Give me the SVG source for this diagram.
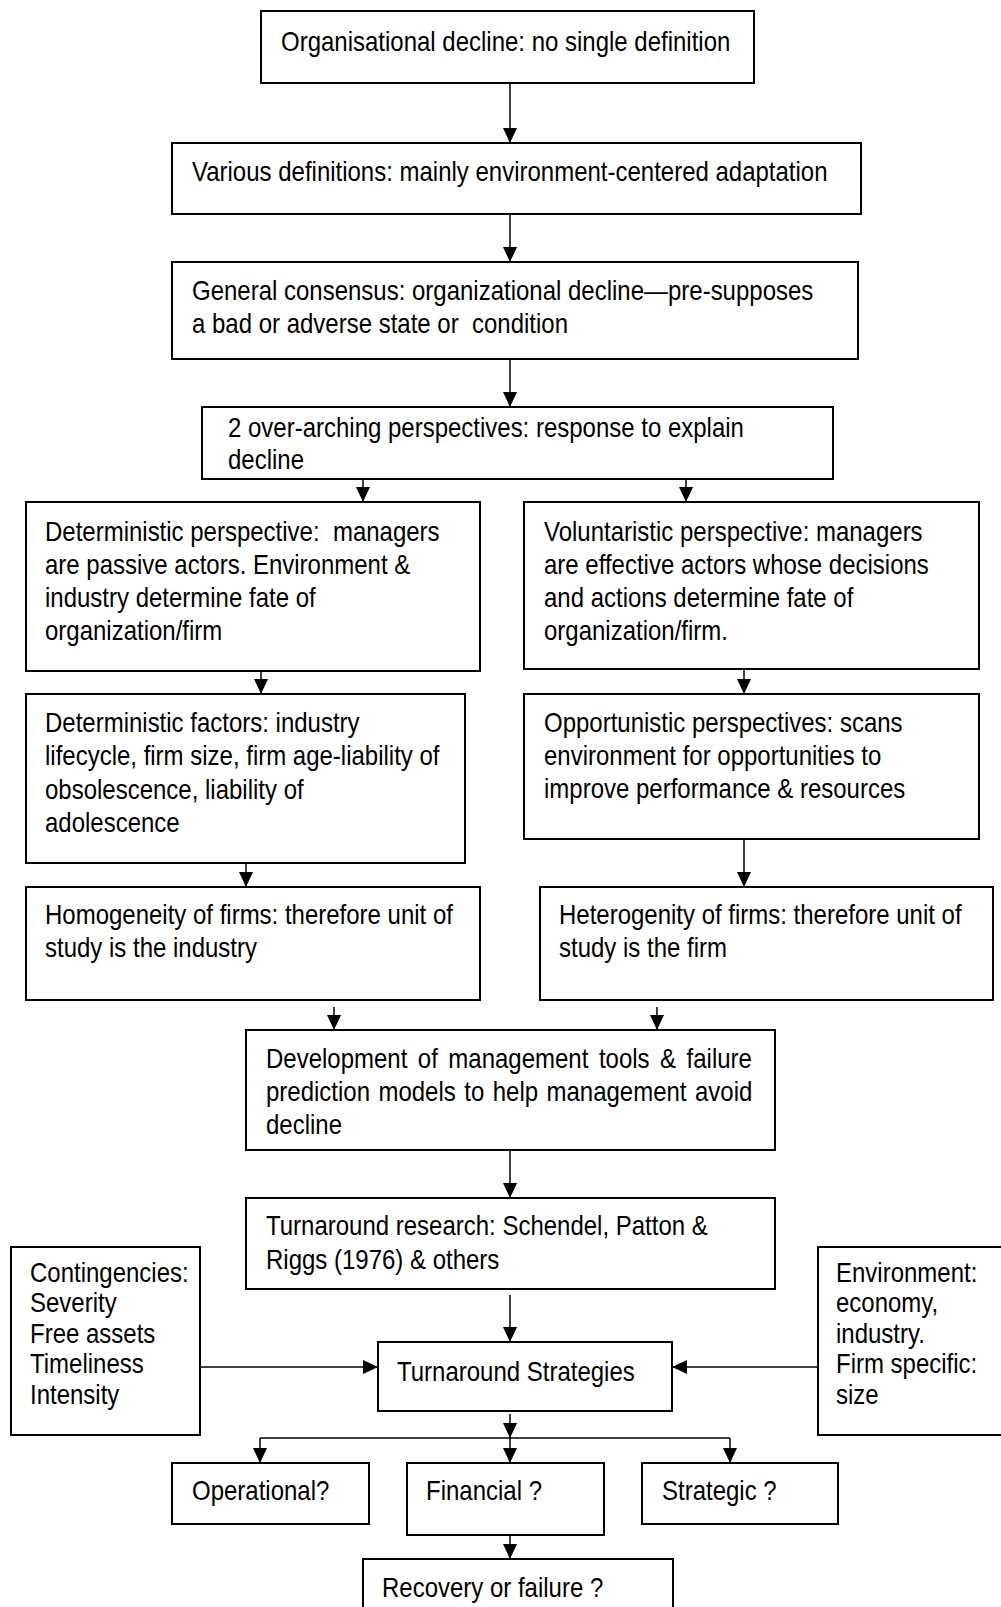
<svg xmlns="http://www.w3.org/2000/svg" width="1001" height="1607" viewBox="0 0 1001 1607">
<style>
.box{fill:#fff;stroke:#000;stroke-width:2}
text{font-family:"Liberation Sans",Arial,sans-serif;font-size:28px;fill:#000;white-space:pre}
.c line{stroke:#000;stroke-width:1.5;fill:none}
</style>
<defs>
<marker id="ah" markerUnits="userSpaceOnUse" markerWidth="15" markerHeight="14" refX="15" refY="7" orient="auto">
<path d="M0,0 L15,7 L0,14 z" fill="#000"/>
</marker>
</defs>
<rect width="1001" height="1607" fill="#fff"/>

<g class="c" id="connectors">
<line x1="510" y1="83" x2="510" y2="143" marker-end="url(#ah)"/>
<line x1="510" y1="214" x2="510" y2="262" marker-end="url(#ah)"/>
<line x1="510" y1="359" x2="510" y2="407" marker-end="url(#ah)"/>
<line x1="363" y1="479" x2="363" y2="502" marker-end="url(#ah)"/>
<line x1="686" y1="479" x2="686" y2="502" marker-end="url(#ah)"/>
<line x1="261" y1="671" x2="261" y2="694" marker-end="url(#ah)"/>
<line x1="744" y1="669" x2="744" y2="694" marker-end="url(#ah)"/>
<line x1="246" y1="863" x2="246" y2="887" marker-end="url(#ah)"/>
<line x1="744" y1="839" x2="744" y2="887" marker-end="url(#ah)"/>
<line x1="334" y1="1007" x2="334" y2="1030" marker-end="url(#ah)"/>
<line x1="657" y1="1007" x2="657" y2="1030" marker-end="url(#ah)"/>
<line x1="510" y1="1150" x2="510" y2="1198" marker-end="url(#ah)"/>
<line x1="510" y1="1295" x2="510" y2="1342" marker-end="url(#ah)"/>
<line x1="200" y1="1367" x2="378" y2="1367" marker-end="url(#ah)"/>
<line x1="818" y1="1367" x2="672" y2="1367" marker-end="url(#ah)"/>
<line x1="510" y1="1414" x2="510" y2="1438" marker-end="url(#ah)"/>
<line x1="260" y1="1438" x2="730" y2="1438"/>
<line x1="260" y1="1438" x2="260" y2="1463" marker-end="url(#ah)"/>
<line x1="510" y1="1438" x2="510" y2="1463" marker-end="url(#ah)"/>
<line x1="730" y1="1438" x2="730" y2="1463" marker-end="url(#ah)"/>
<line x1="510" y1="1535" x2="510" y2="1559" marker-end="url(#ah)"/>
</g>

<g id="n1"><rect class="box" x="261" y="11" width="493" height="72"/>
<text transform="translate(281 51) scale(0.857 1)">Organisational decline: no single definition</text></g>

<g id="n2"><rect class="box" x="172" y="143" width="689" height="71"/>
<text transform="translate(192 181) scale(0.857 1)">Various definitions: mainly environment-centered adaptation</text></g>

<g id="n3"><rect class="box" x="172" y="262" width="686" height="97"/>
<text transform="translate(192 300) scale(0.857 1)">General consensus: organizational decline—pre-supposes</text>
<text transform="translate(192 333) scale(0.857 1)">a bad or adverse state or  condition</text></g>

<g id="n4"><rect class="box" x="202" y="407" width="631" height="72"/>
<text transform="translate(228 437) scale(0.857 1)">2 over-arching perspectives: response to explain</text>
<text transform="translate(228 469) scale(0.857 1)">decline</text></g>

<g id="n5l"><rect class="box" x="26" y="502" width="454" height="169"/>
<text transform="translate(45 541) scale(0.857 1)">Deterministic perspective:  managers</text>
<text transform="translate(45 574) scale(0.857 1)">are passive actors. Environment &amp;</text>
<text transform="translate(45 607) scale(0.857 1)">industry determine fate of</text>
<text transform="translate(45 640) scale(0.857 1)">organization/firm</text></g>

<g id="n5r"><rect class="box" x="524" y="502" width="455" height="167"/>
<text transform="translate(544 541) scale(0.857 1)">Voluntaristic perspective: managers</text>
<text transform="translate(544 574) scale(0.857 1)">are effective actors whose decisions</text>
<text transform="translate(544 607) scale(0.857 1)">and actions determine fate of</text>
<text transform="translate(544 640) scale(0.857 1)">organization/firm.</text></g>

<g id="n6l"><rect class="box" x="26" y="694" width="439" height="169"/>
<text transform="translate(45 732) scale(0.857 1)">Deterministic factors: industry</text>
<text transform="translate(45 765) scale(0.857 1)">lifecycle, firm size, firm age-liability of</text>
<text transform="translate(45 799) scale(0.857 1)">obsolescence, liability of</text>
<text transform="translate(45 832) scale(0.857 1)">adolescence</text></g>

<g id="n6r"><rect class="box" x="524" y="694" width="455" height="145"/>
<text transform="translate(544 732) scale(0.857 1)">Opportunistic perspectives: scans</text>
<text transform="translate(544 765) scale(0.857 1)">environment for opportunities to</text>
<text transform="translate(544 798) scale(0.857 1)">improve performance &amp; resources</text></g>

<g id="n7l"><rect class="box" x="26" y="887" width="454" height="113"/>
<text transform="translate(45 924) scale(0.857 1)">Homogeneity of firms: therefore unit of</text>
<text transform="translate(45 957) scale(0.857 1)">study is the industry</text></g>

<g id="n7r"><rect class="box" x="540" y="887" width="453" height="113"/>
<text transform="translate(559 924) scale(0.857 1)">Heterogenity of firms: therefore unit of</text>
<text transform="translate(559 957) scale(0.857 1)">study is the firm</text></g>

<g id="n8"><rect class="box" x="246" y="1030" width="529" height="120"/>
<text transform="translate(266 1068) scale(0.857 1)" word-spacing="4.5">Development of management tools &amp; failure</text>
<text transform="translate(266 1101) scale(0.857 1)" word-spacing="2.1">prediction models to help management avoid</text>
<text transform="translate(266 1134) scale(0.857 1)">decline</text></g>

<g id="n9"><rect class="box" x="246" y="1198" width="529" height="91"/>
<text transform="translate(266 1235) scale(0.857 1)">Turnaround research: Schendel, Patton &amp;</text>
<text transform="translate(266 1269) scale(0.857 1)">Riggs (1976) &amp; others</text></g>

<g id="n10"><rect class="box" x="378" y="1342" width="294" height="69"/>
<text transform="translate(397 1381) scale(0.857 1)">Turnaround Strategies</text></g>

<g id="ncont"><rect class="box" x="11" y="1247" width="189" height="188"/>
<text transform="translate(30 1282) scale(0.857 1)">Contingencies:</text>
<text transform="translate(30 1312) scale(0.857 1)">Severity</text>
<text transform="translate(30 1343) scale(0.857 1)">Free assets</text>
<text transform="translate(30 1373) scale(0.857 1)">Timeliness</text>
<text transform="translate(30 1404) scale(0.857 1)">Intensity</text></g>

<g id="nenv"><rect class="box" x="818" y="1247" width="186" height="188"/>
<text transform="translate(836 1282) scale(0.857 1)">Environment:</text>
<text transform="translate(836 1312) scale(0.857 1)">economy,</text>
<text transform="translate(836 1343) scale(0.857 1)">industry.</text>
<text transform="translate(836 1373) scale(0.857 1)">Firm specific:</text>
<text transform="translate(836 1404) scale(0.857 1)">size</text></g>

<g id="nop"><rect class="box" x="172" y="1463" width="197" height="61"/>
<text transform="translate(192 1500) scale(0.857 1)">Operational?</text></g>

<g id="nfin"><rect class="box" x="407" y="1463" width="197" height="72"/>
<text transform="translate(426 1500) scale(0.857 1)">Financial ?</text></g>

<g id="nstr"><rect class="box" x="642" y="1463" width="196" height="61"/>
<text transform="translate(662 1500) scale(0.857 1)">Strategic ?</text></g>

<g id="nrec"><rect class="box" x="363" y="1559" width="310" height="60"/>
<text transform="translate(382 1597) scale(0.857 1)">Recovery or failure ?</text></g>
</svg>
